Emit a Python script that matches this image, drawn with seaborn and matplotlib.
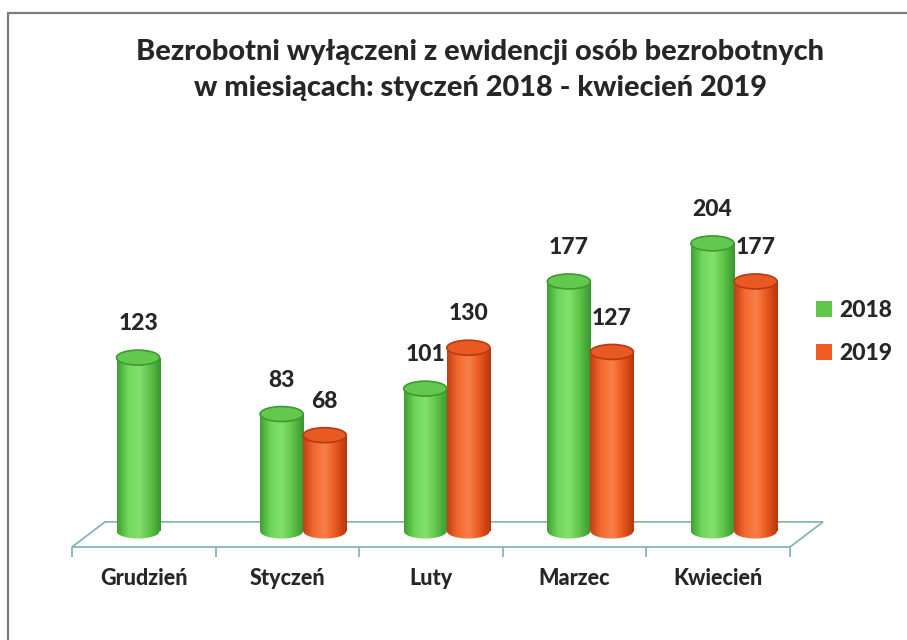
import numpy as np
import pandas as pd
import seaborn as sns
import matplotlib
matplotlib.use("Agg")
import matplotlib.pyplot as plt
from matplotlib.patches import Ellipse, Polygon, Patch
from matplotlib.lines import Line2D
from matplotlib.colors import LinearSegmentedColormap

# ---- data ----
months = ["Grudzień", "Styczeń", "Luty", "Marzec", "Kwiecień"]
years = ["2018", "2019"]
values_2018 = [123, 83, 101, 177, 204]
values_2019 = [np.nan, 68, 130, 127, 177]
title = "Bezrobotni wyłączeni z ewidencji osób bezrobotnych\nw miesiącach: styczeń 2018 - kwiecień 2019"

df = pd.DataFrame({
    "month": months * 2,
    "year": [years[0]] * len(months) + [years[1]] * len(months),
    "value": values_2018 + values_2019,
})

# ---- style ----
base_colors = {"2018": "#5fc84a", "2019": "#ef5c24"}
shade = {
    "2018": ["#3f9e32", "#6fd85a", "#85e06e", "#5cc447", "#3a9430"],
    "2019": ["#c23e12", "#f46a30", "#f8804a", "#e9561d", "#b3360e"],
}
rim = {"2018": "#3e9a30", "2019": "#b63a12"}
top_face = {"2018": "#63c84e", "2019": "#e85a22"}
text_color = "#262626"
floor_color = "#86b5b9"
heavy = 900

sns.set_theme(style="white")
plt.rcParams["font.family"] = ["Lato", "DejaVu Sans"]

W, H = 907, 640
fig = plt.figure(figsize=(W / 100, H / 100), dpi=100)
fig.patch.set_facecolor("white")

# axes: x from px 72 to 790, y baseline region 547 -> 163
ax = fig.add_axes([72 / W, (H - 547) / H, (790 - 72) / W, (547 - 163) / H])
ylo, yhi = -11.3, 261
sns.barplot(data=df, x="month", y="value", hue="year", order=months,
            hue_order=years, palette=base_colors, width=0.6, saturation=1,
            legend=False, ax=ax, zorder=3)
ax.set_xlim(-0.5, len(months) - 0.5)
ax.set_ylim(ylo, yhi)
for s in ax.spines.values():
    s.set_visible(False)
ax.set_yticks([])
ax.set_xlabel("")
ax.set_ylabel("")
ax.patch.set_alpha(0)

# floor (3D base plate)
depth_dx, floor_back = 0.23, 6.5
floor = Polygon([(-0.5, ylo), (len(months) - 0.5, ylo),
                 (len(months) - 0.5 + depth_dx, floor_back),
                 (-0.5 + depth_dx, floor_back)],
                closed=True, facecolor="white", edgecolor=floor_color,
                lw=1.3, zorder=1, clip_on=False)
ax.add_patch(floor)

# px per data unit (vertical) for ellipse sizes
px_per_unit = (547 - 163) / (yhi - ylo)
ell_h = 15 / px_per_unit
shift = 0.11

for yr, cont in zip(years, ax.containers):
    cmap = LinearSegmentedColormap.from_list("c" + yr, shade[yr])
    grad = np.linspace(0, 1, 256).reshape(1, -1)
    for bar, val in zip(cont.patches, cont.datavalues):
        if np.isnan(val):
            continue
        bar.set_x(bar.get_x() + shift)
        x0, w, h = bar.get_x(), bar.get_width(), bar.get_height()
        xc = x0 + w / 2
        bar.set_facecolor("none")
        bar.set_edgecolor("none")
        im = ax.imshow(grad, cmap=cmap, aspect="auto",
                       extent=[x0, x0 + w, -ell_h / 2, h], zorder=3,
                       interpolation="bilinear")
        im.set_clip_path(bar)
        # rounded bottom
        bot = Ellipse((xc, 0), w, ell_h, facecolor="none", edgecolor="none", zorder=3)
        ax.add_patch(bot)
        im2 = ax.imshow(grad, cmap=cmap, aspect="auto",
                        extent=[x0, x0 + w, -ell_h / 2, ell_h / 2], zorder=3,
                        interpolation="bilinear")
        im2.set_clip_path(bot)
        # top cap
        top = Ellipse((xc, h), w, ell_h, facecolor=top_face[yr],
                      edgecolor=rim[yr], lw=1.2, zorder=4)
        ax.add_patch(top)
        ax.text(xc, h + 24, f"{int(val)}", ha="center", va="center",
                fontsize=16.5, fontweight=heavy, color=text_color, zorder=5)

ax.set_xlim(-0.5, len(months) - 0.5)
ax.set_ylim(ylo, yhi)

# ticks
ax.set_xticks(range(len(months)))
ax.set_xticklabels(months, fontsize=15.5, fontweight=heavy, color=text_color)
ax.tick_params(axis="x", which="major", length=0, pad=15)
ax.set_xticks(np.arange(-0.5, len(months)), minor=True)
ax.tick_params(axis="x", which="minor", length=7, width=1.3,
               color=floor_color, direction="out", bottom=True)

# legend
handles = [Patch(facecolor=base_colors[y], edgecolor="none", label=y) for y in years]
fig.legend(handles=handles, loc="center left",
           bbox_to_anchor=(795 / W, 1 - 332 / H), frameon=False,
           handlelength=0.7, handleheight=0.7,
           handletextpad=0.35, labelspacing=1.0,
           prop={"weight": heavy, "size": 16.5})
for t in fig.legends[0].get_texts():
    t.set_color(text_color)

# title
fig.text(480 / W, 1 - 70 / H, title, ha="center", va="center",
         fontsize=20.8, fontweight=heavy, color=text_color, linespacing=1.45)

# chart frame (top and left border)
fig.add_artist(Line2D([8 / W, 1], [1 - 13 / H, 1 - 13 / H], color="#7d7d7d", lw=1.6))
fig.add_artist(Line2D([8 / W, 8 / W], [1 - 13 / H, 0], color="#7d7d7d", lw=1.6))

fig.savefig("out.png", dpi=100, facecolor="white")
